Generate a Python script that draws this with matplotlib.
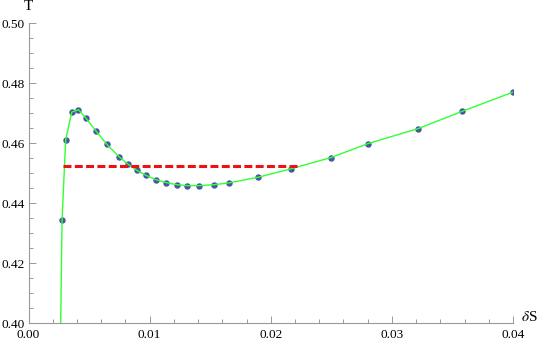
import numpy as np
import matplotlib
matplotlib.use("Agg")
import matplotlib.pyplot as plt
from matplotlib.ticker import MultipleLocator, FormatStrFormatter

# sampled points (dots)
dS = [0.00277, 0.00307, 0.00357, 0.00412, 0.00475, 0.00555, 0.00646, 0.00748,
      0.00820, 0.00894, 0.00971, 0.01051, 0.01136, 0.01225, 0.01310, 0.01409,
      0.01533, 0.01655, 0.01897, 0.02167, 0.02494, 0.02803, 0.03217, 0.03583,
      0.03996]
T = [0.4344, 0.4612, 0.4704, 0.4712, 0.4684, 0.4642, 0.4597, 0.4555,
     0.4531, 0.4510, 0.4493, 0.4479, 0.4469, 0.4462, 0.4459, 0.4459,
     0.4462, 0.4468, 0.4487, 0.4515, 0.4552, 0.4599, 0.4649, 0.4707,
     0.4770]

# where the curve leaves the bottom of the frame
curve_start_x = 0.00264
curve_start_y = 0.395

# equal-area line
T_eq = 0.4524
eq_x = [0.00285, 0.02219]

plt.rcParams['font.family'] = ['Liberation Serif', 'DejaVu Serif']
plt.rcParams['mathtext.fontset'] = 'stix'

fig = plt.figure(figsize=(5.42, 3.42), dpi=100)
ax = fig.add_axes([28.5 / 542, (342 - 323.3) / 342, (513 - 28.5) / 542, 300 / 342])

ax.plot([curve_start_x] + dS, [curve_start_y] + T, color='#33ff33', lw=1.0, zorder=3)
ax.plot(dS, T, 'o', color='#4655a5', ms=3.6, mec='#4655a5', zorder=2)
ax.plot(eq_x, [T_eq, T_eq], color='#ee1111', lw=2.2, dashes=(2.6, 1.1), zorder=4)

ax.set_xlim(0, 0.04)
ax.set_ylim(0.40, 0.50)

for s in ['top', 'right']:
    ax.spines[s].set_visible(False)
for s in ['left', 'bottom']:
    ax.spines[s].set_color('#999999')
    ax.spines[s].set_linewidth(0.8)

ax.xaxis.set_major_locator(MultipleLocator(0.01))
ax.xaxis.set_minor_locator(MultipleLocator(0.002))
ax.yaxis.set_major_locator(MultipleLocator(0.02))
ax.yaxis.set_minor_locator(MultipleLocator(0.005))
ax.xaxis.set_major_formatter(FormatStrFormatter('%.2f'))
ax.yaxis.set_major_formatter(FormatStrFormatter('%.2f'))
ax.tick_params(which='both', direction='in', color='#999999', labelsize=9.5, width=0.7)
ax.tick_params(which='major', length=5)
ax.tick_params(which='minor', length=3)
ax.tick_params(axis='x', pad=4)
ax.tick_params(axis='y', pad=3)

ax.text(0, 1.055, 'T', transform=ax.transAxes, ha='center', va='center', fontsize=11)
ax.text(1.016, 0.02, r'$\delta$S', transform=ax.transAxes, ha='left', va='center', fontsize=11)

fig.savefig('out.png', dpi=100)
